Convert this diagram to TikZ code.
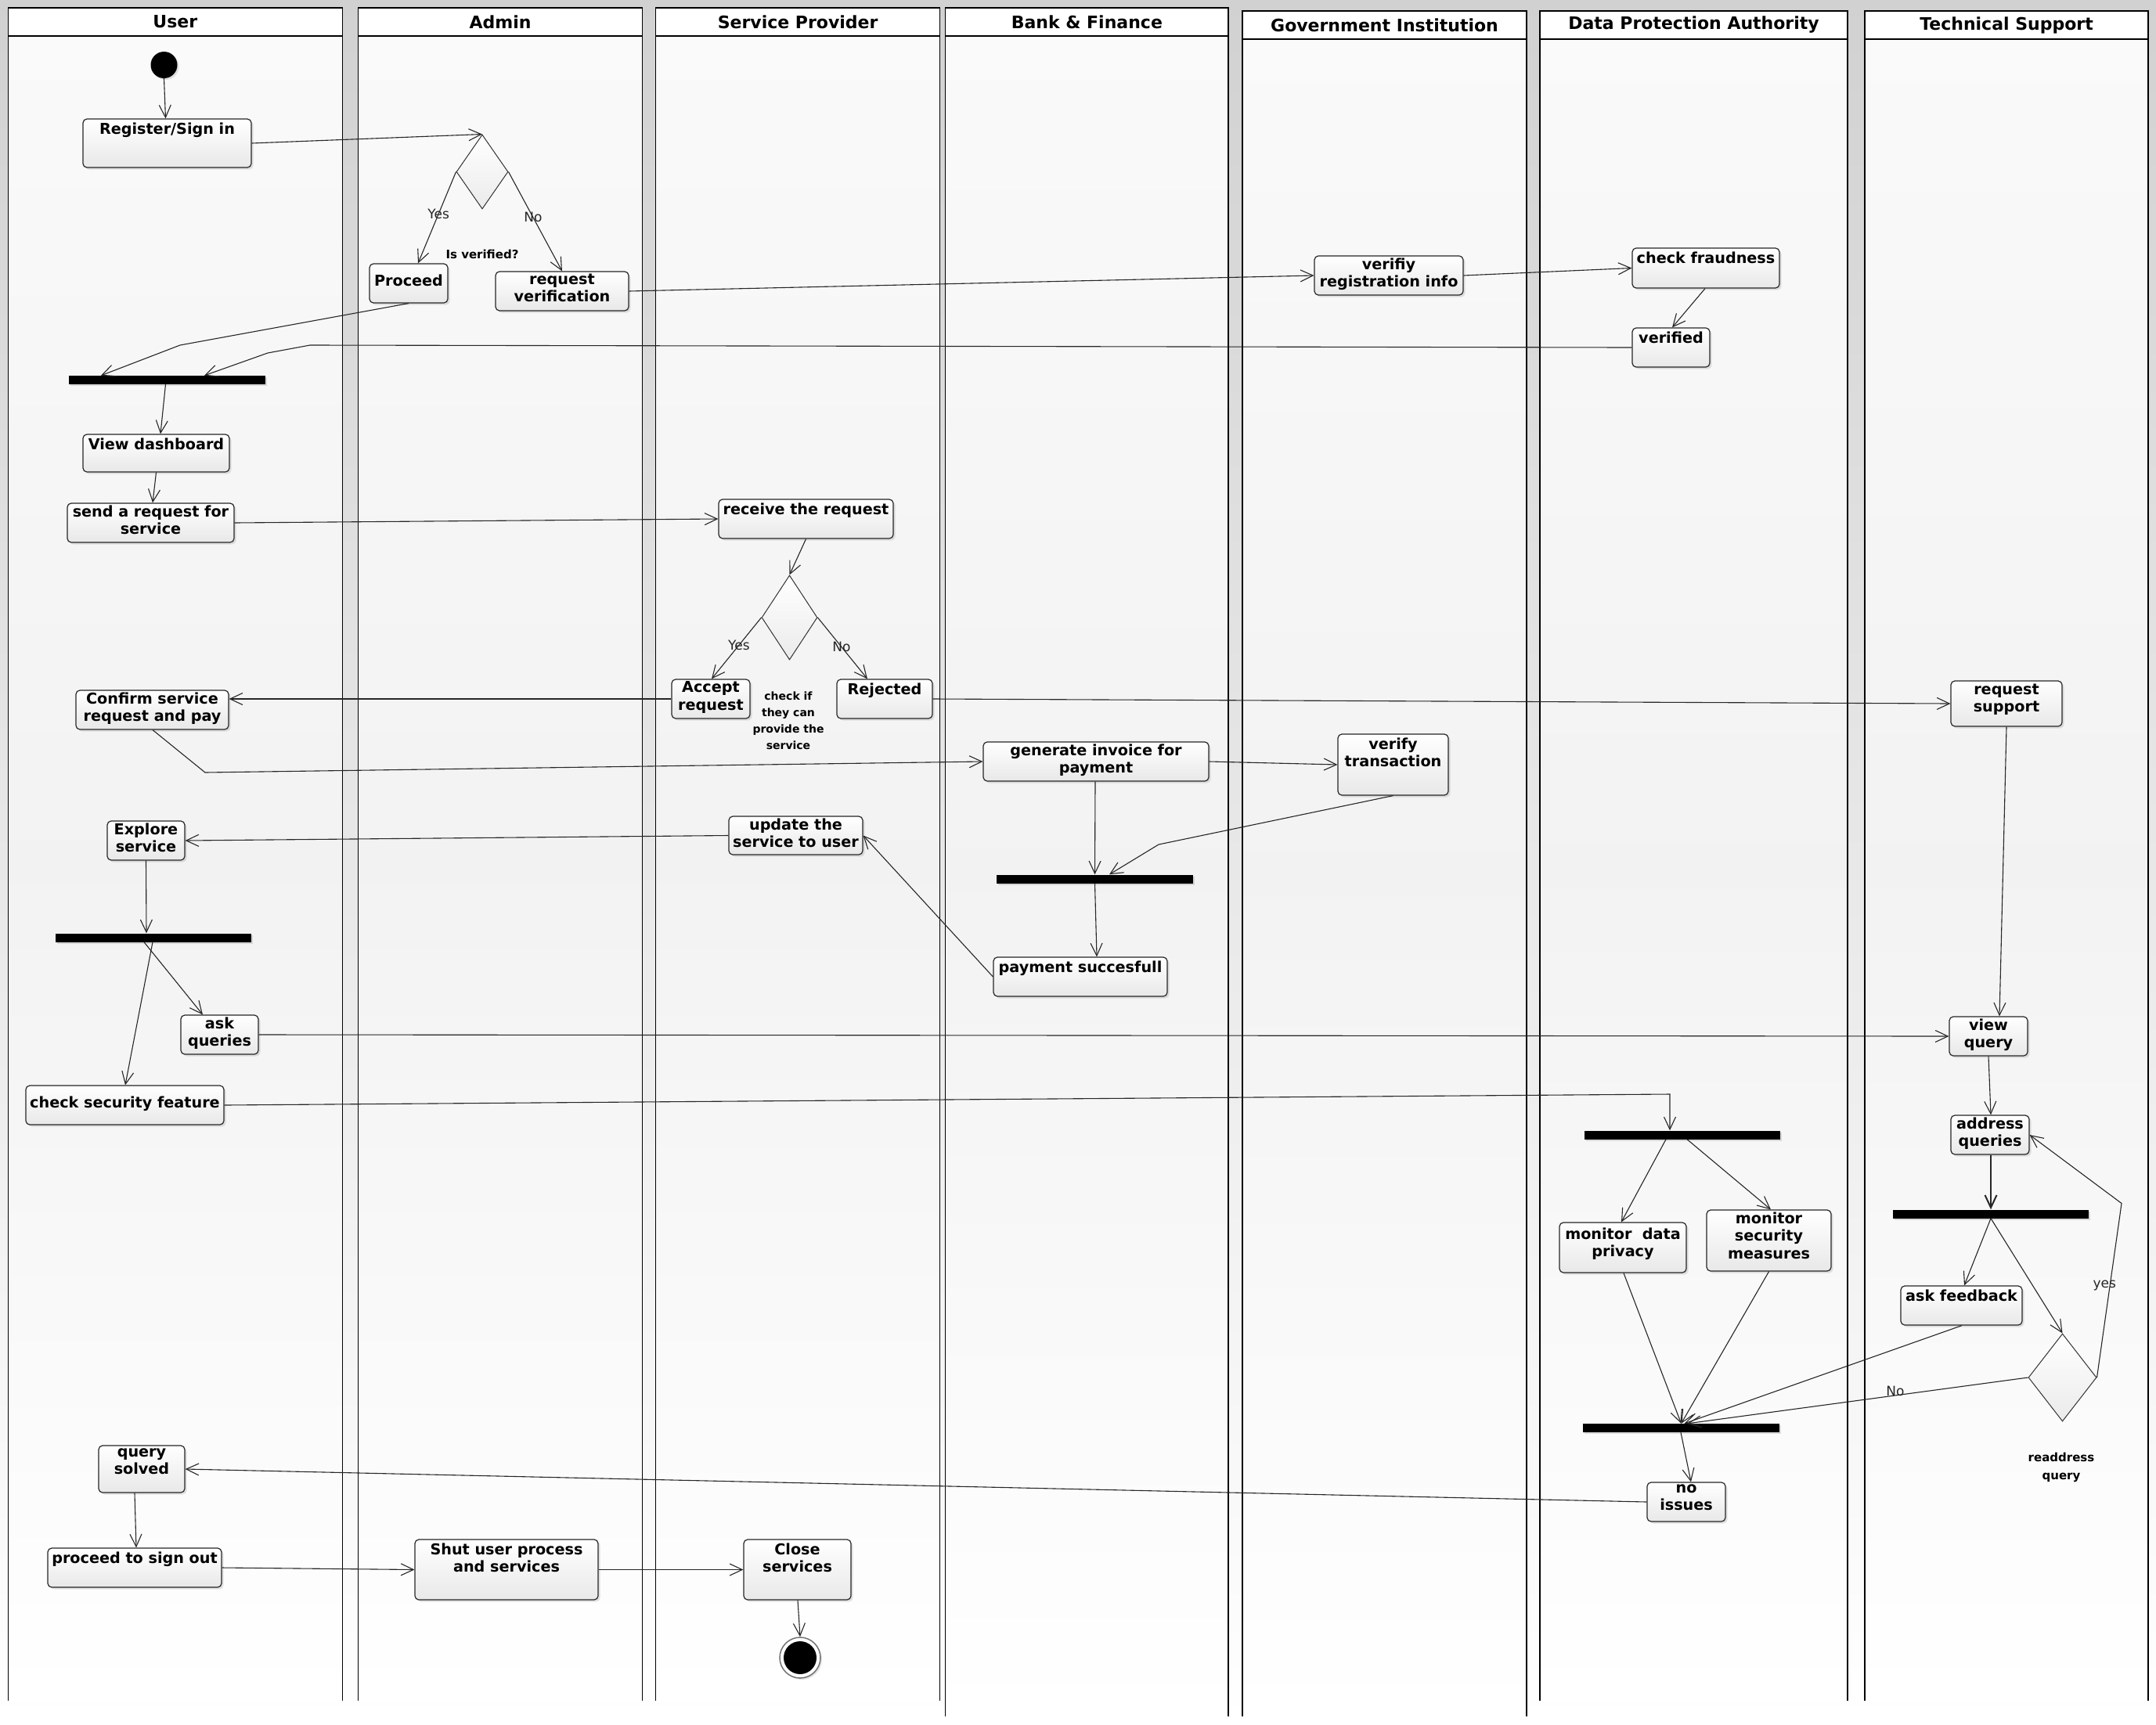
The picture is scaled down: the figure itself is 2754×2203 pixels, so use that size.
\documentclass[tikz,border=0pt]{standalone}
\usepackage{fontspec}
\setmainfont{DejaVu Sans}
\usetikzlibrary{arrows.meta,shapes.geometric,shadows,calc}

\tikzset{
  lanefill/.style={top color=black!2, bottom color=white, middle color=black!5},
  laneline/.style={draw=black, line width=1.2pt},
  lanehead/.style={draw=black, line width=1.2pt, fill=white},
  lanetitle/.style={font=\fontsize{22}{26}\selectfont\bfseries, inner sep=0pt},
  actbox/.style={draw=black!85, line width=1.2pt, rounded corners=5pt, top color=white, bottom color=black!9,
    inner sep=0pt, drop shadow={shadow xshift=2.5pt, shadow yshift=-2.5pt, opacity=.22}},
  acttext/.style={font=\fontsize{19.2}{22.5}\selectfont\bfseries, align=center, inner sep=1pt, anchor=north},
  barnode/.style={fill=black, draw=none, inner sep=0pt, minimum height=11pt,
    drop shadow={shadow xshift=2pt, shadow yshift=-2pt, opacity=.25}},
  decision/.style={diamond, draw=black!80, line width=1pt, top color=white, bottom color=black!8, inner sep=0pt},
  flow/.style={draw=black!85, line width=1.1pt, -{Straight Barb[length=16pt,width=15pt]}},
  guard/.style={font=\fontsize{17}{19}\selectfont, text=black!85, inner sep=0pt},
  notetext/.style={font=\fontsize{14}{21}\selectfont\bfseries, align=center, inner sep=0pt},
}

% \mkact[yshift]{name}{left}{top}{right}{bottom}{text}
\newcommand\mkact[7][4]{%
  \node[actbox, minimum width={(#5-#3)*1pt}, minimum height={(#6-#4)*1pt}] (#2) at ({(#3+#5)/2},{(#4+#6)/2}) {};
  \node[acttext] (#2t) at ([yshift=-#1pt]#2.north) {#7};
}
\newcommand\mklane[6]{% name, left, right, top, headbottom, bottom
  \fill[lanefill] (#2,#5) rectangle (#3,#6);
  \draw[laneline] (#2,#6) -- (#2,#4) -- (#3,#4) -- (#3,#6);
  \draw[lanehead] (#2,#4) rectangle (#3,#5);
}

\begin{document}
\begin{tikzpicture}[x=1pt, y=-1pt]
\useasboundingbox (0,0) rectangle (2754,2203);
\shade[top color=black!18, bottom color=white] (0,0) rectangle (2754,2203);

% ---------------- swimlanes
\mklane{lu}{10.3}{437.4}{10}{46}{2173}
\node[lanetitle] (hUser) at (223.85,28) {User};
\mklane{la}{457.5}{820.5}{10}{46}{2173}
\node[lanetitle] (hAdmin) at (639,28) {Admin};
\mklane{ls}{837.4}{1200.8}{10}{46}{2173}
\node[lanetitle] (hSP) at (1019.1,28) {Service Provider};
\mklane{lb}{1207.7}{1569}{10}{46}{2193}
\node[lanetitle] (hBank) at (1388.35,28) {Bank \& Finance};
\mklane{lg}{1587}{1950}{14}{50}{2193}
\node[lanetitle] (hGov) at (1768.5,32) {Government Institution};
\mklane{ld}{1967}{2360}{14}{50}{2173}
\node[lanetitle] (hDPA) at (2163.5,32) {Data Protection Authority};
\mklane{lt}{2382}{2744}{14}{50}{2173}
\node[lanetitle] (hTS) at (2563,32) {Technical Support};

% ---------------- start / end
\node[circle, fill=black, minimum size=34pt, inner sep=0pt,
  drop shadow={shadow xshift=2pt, shadow yshift=-2pt, opacity=.22}] (start) at (209.5,83) {};
\node[circle, draw=black!55, line width=1.5pt, fill=white, minimum size=52pt, inner sep=0pt,
  drop shadow={shadow xshift=2pt, shadow yshift=-2pt, opacity=.22}] (end) at (1022,2118) {};
\node[circle, fill=black, minimum size=42pt, inner sep=0pt] (endin) at (end.center) {};

% ---------------- activities
\mkact{reg}{106}{152}{321}{214}{Register/Sign in}
\mkact[13]{proc}{472}{337}{572}{387}{Proceed}
\mkact[2]{reqv}{633}{347}{803}{397}{request\\verification}
\mkact[2]{vri}{1679}{327}{1869}{377}{verifiy\\registration info}
\mkact{chk}{2085}{317}{2273}{368}{check fraudness}
\mkact{ver}{2085}{419}{2184}{469}{verified}
\mkact{dash}{106}{555}{293}{603}{View dashboard}
\mkact[2]{send}{86}{643}{299}{693}{send a request for\\service}
\mkact{recv}{918}{638}{1141}{688}{receive the request}
\mkact[2]{acc}{858}{868}{958}{918}{Accept\\request}
\mkact{rej}{1069}{868}{1191}{918}{Rejected}
\mkact[2]{conf}{97}{882}{292}{932}{Confirm service\\request and pay}
\mkact[2]{gen}{1256}{948}{1544}{998}{generate invoice for\\payment}
\mkact{vtr}{1709}{938}{1850}{1016}{verify\\transaction}
\mkact[2]{upd}{931}{1043}{1102}{1092}{update the\\service to user}
\mkact[2]{expl}{137}{1049}{236}{1099}{Explore\\service}
\mkact{pay}{1269}{1223}{1491}{1273}{payment succesfull}
\mkact[2]{askq}{231}{1297}{330}{1347}{ask\\queries}
\mkact[13]{csec}{33}{1387}{286}{1437}{check security feature}
\mkact[6]{mdp}{1992}{1562}{2154}{1626}{monitor\ \ data\\privacy}
\mkact[2]{msm}{2180}{1546}{2339}{1624}{monitor\\security\\measures}
\mkact[3]{rsup}{2492}{870}{2634}{928}{request\\support}
\mkact[2]{vq}{2490}{1299}{2590}{1349}{view\\query}
\mkact[2]{addr}{2492}{1425}{2592}{1475}{address\\queries}
\mkact{askf}{2428}{1643}{2583}{1693}{ask feedback}
\mkact[2]{noi}{2104}{1894}{2204}{1944}{no\\issues}
\mkact[3]{qs}{126}{1847}{236}{1907}{query\\solved}
\mkact{pso}{61}{1978}{283}{2028}{proceed to sign out}
\mkact{shut}{530}{1967}{764}{2044}{Shut user process\\and services}
\mkact{close}{950}{1967}{1087}{2044}{Close\\services}

% ---------------- fork / join bars
\node[barnode, minimum width=251pt] (bar1) at (213.5,485.5) {};
\node[barnode, minimum width=251pt] (bar2) at (1398.5,1123) {};
\node[barnode, minimum width=250pt] (bar3) at (196,1198) {};
\node[barnode, minimum width=250pt] (bar4) at (2149,1450) {};
\node[barnode, minimum width=251pt] (bar5) at (2147.5,1824.5) {};
\node[barnode, minimum width=250pt] (bar6) at (2543,1551) {};

% ---------------- decisions
\node[decision, minimum width=66pt, minimum height=95pt] (d1) at (616,219.5) {};
\node[decision, minimum width=71pt, minimum height=108pt] (d2) at (1008.5,789) {};
\node[decision, minimum width=87pt, minimum height=112pt] (d3) at (2634.5,1760) {};

% ---------------- notes
\node[font=\fontsize{15}{18}\selectfont\bfseries, inner sep=0pt] (isver) at (616,325) {Is verified?};
\node[notetext] (chkif) at (1007,921) {check if\\they can\\provide the\\service};
\node[notetext, font=\fontsize{15}{23}\selectfont\bfseries] (readd) at (2633,1875) {readdress\\query};

% ---------------- flows
\draw[flow] (start.south) -- ($(reg.north)+(-2,0)$);
\draw[flow] (reg.east) -- (d1.north);
\draw[flow] (d1.west) -- node[guard,pos=.46] (gyes1) {Yes} ($(proc.north)+(12,0)$);
\draw[flow] (d1.east) -- node[guard,pos=.46] (gno1) {No} (reqv.north);
\draw[flow] (reqv.east) -- (vri.west);
\draw[flow] (vri.east) -- (chk.west);
\draw[flow] ($(chk.south)+(-1,0)$) -- ($(ver.north)+(1.5,0)$);
\draw[flow] (ver.west) -- (396,441) -- (342,451) -- ($(bar1.north)+(47.5,0)$);
\draw[flow] (proc.south) -- (230,441) -- ($(bar1.north)+(-84.5,0)$);
\draw[flow] ($(bar1.south)+(-2,0)$) -- ($(dash.north)+(5.5,0)$);
\draw[flow] (dash.south) -- ($(send.north)+(2.5,0)$);
\draw[flow] (send.east) -- (recv.west);
\draw[flow] (recv.south) -- (d2.north);
\draw[flow] (d2.west) -- node[guard,pos=.45] (gyes2) {Yes} ($(acc.north)+(1,0)$);
\draw[flow] (d2.east) -- node[guard,pos=.48] (gno2) {No} ($(rej.north)+(-22,0)$);
\draw[flow] (acc.west) -- ($(conf.east)+(0,-14)$);
\draw[flow] (rej.east) -- (rsup.west);
\draw[flow] ($(conf.south)+(0.5,0)$) -- (262,987) -- (gen.west);
\draw[flow] (gen.east) -- (vtr.west);
\draw[flow] ($(gen.south)+(-1,0)$) -- (bar2.north);
\draw[flow] (vtr.south) -- (1480,1079) -- ($(bar2.north)+(18.5,0)$);
\draw[flow] (bar2.south) -- ($(pay.north)+(21,0)$);
\draw[flow] (pay.west) -- (upd.east);
\draw[flow] (upd.west) -- (expl.east);
\draw[flow] (expl.south) -- ($(bar3.north)+(-9,0)$);
\draw[flow] ($(bar3.south)+(-12,0)$) -- ($(askq.north)+(-21.5,0)$);
\draw[flow] ($(bar3.south)+(-1,0)$) -- ($(csec.north)+(0.5,0)$);
\draw[flow] (askq.east) -- (vq.west);
\draw[flow] (csec.east) -- (2133,1398) -- ($(bar4.north)+(-16,0)$);
\draw[flow] ($(bar4.south)+(-21,0)$) -- ($(mdp.north)+(-2,0)$);
\draw[flow] ($(bar4.south)+(6,0)$) -- ($(msm.north)+(2.5,0)$);
\draw[flow] ($(mdp.south)+(1,0)$) -- (bar5.north);
\draw[flow] (msm.south) -- (bar5.north);
\draw[flow] (rsup.south) -- ($(vq.north)+(14,0)$);
\draw[flow] (vq.south) -- ($(addr.north)+(1,0)$);
\draw[flow, line width=2pt] ($(addr.south)+(1,0)$) -- (bar6.north);
\draw[flow] (bar6.south) -- ($(askf.north)+(3.5,0)$);
\draw[flow] (bar6.south) -- (d3.north);
\draw[flow] (d3.east) -- node[guard,pos=.53,xshift=-7pt] (gyes3) {yes} (2710,1537.5) -- (addr.east);
\draw[flow] (d3.west) -- node[guard,pos=.39,yshift=6pt] (gno3) {No} ($(bar5.north)+(8,0)$);
\draw[flow] ($(askf.south)+(0.5,0)$) -- ($(bar5.north)+(4,0)$);
\draw[flow] ($(bar5.south)+(-0.5,0)$) -- ($(noi.north)+(6,0)$);
\draw[flow] (noi.west) -- (qs.east);
\draw[flow] ($(qs.south)+(-9,0)$) -- ($(pso.north)+(2,0)$);
\draw[flow] (pso.east) -- (shut.west);
\draw[flow] (shut.east) -- (close.west);
\draw[flow] ($(close.south)+(0.5,0)$) -- (end.north);
\end{tikzpicture}
\end{document}
